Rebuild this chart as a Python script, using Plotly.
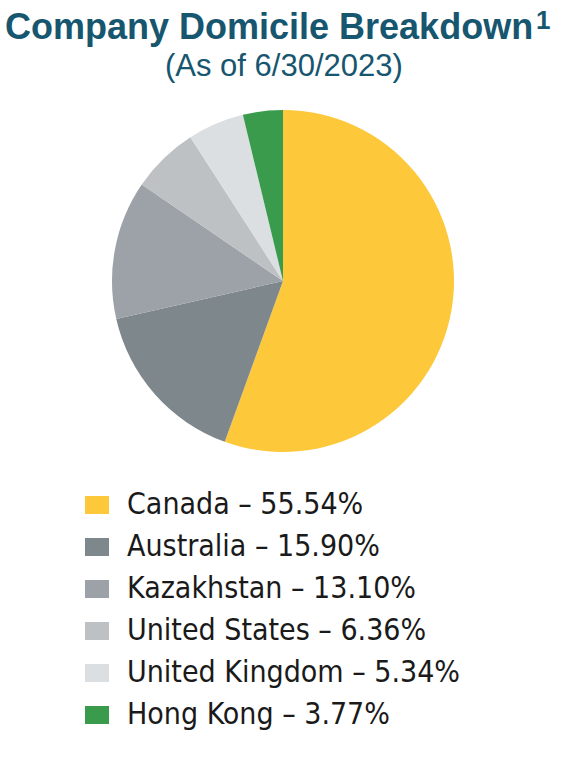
import plotly.graph_objects as go

W, H = 572, 778

countries = ["Canada", "Australia", "Kazakhstan", "United States", "United Kingdom", "Hong Kong"]
weights = [55.54, 15.90, 13.10, 6.36, 5.34, 3.77]
colors = ["#FDC83A", "#7D878C", "#9CA2A7", "#BDC1C4", "#DCDFE2", "#3A9B4C"]

title_text = "Company Domicile Breakdown"
footnote_mark = "1"
subtitle_text = "(As of 6/30/2023)"
navy = "#17566F"
legend_font = "DejaVu Sans Condensed, Liberation Sans Narrow, Roboto"


def px_x(v):
    return v / W


def px_y(v):
    return 1 - v / H


fig = go.Figure()
fig.add_trace(go.Pie(
    labels=countries,
    values=weights,
    marker=dict(colors=colors, line=dict(width=0)),
    sort=False,
    direction="clockwise",
    rotation=0,
    textinfo="none",
    hoverinfo="label+percent",
    showlegend=False,
    domain=dict(x=[px_x(112), px_x(454)], y=[px_y(452), px_y(110)]),
))

# hand-built legend, one row per country
shapes = []
annotations = []
row0, step = 505, 42
for i, (name, val, col) in enumerate(zip(countries, weights, colors)):
    yc = row0 + i * step
    shapes.append(dict(type="rect", xref="paper", yref="paper",
                       x0=px_x(85), x1=px_x(109), y0=px_y(yc + 9), y1=px_y(yc - 9),
                       fillcolor=col, line=dict(width=0)))
    annotations.append(dict(text=f"{name} \u2013 {val:.2f}%", xref="paper", yref="paper",
                            x=px_x(125), y=px_y(yc - 2), xanchor="left", yanchor="middle",
                            showarrow=False,
                            font=dict(family=legend_font, size=30, color="#1a1a1a")))

annotations.append(dict(text=f"<b>{title_text}</b>", xref="paper", yref="paper",
                        x=px_x(269), y=px_y(27), xanchor="center", yanchor="middle",
                        showarrow=False,
                        font=dict(family="Liberation Sans", size=36, color=navy)))
# footnote marker, top-aligned with the capitals
annotations.append(dict(text=f"<b>{footnote_mark}</b>", xref="paper", yref="paper",
                        x=px_x(534), y=px_y(20), xanchor="left", yanchor="middle",
                        showarrow=False,
                        font=dict(family="Liberation Sans", size=26, color=navy)))
annotations.append(dict(text=subtitle_text, xref="paper", yref="paper",
                        x=px_x(284), y=px_y(65), xanchor="center", yanchor="middle",
                        showarrow=False,
                        font=dict(family="Liberation Sans", size=31, color=navy)))

fig.update_layout(
    width=W, height=H,
    margin=dict(l=0, r=0, t=0, b=0),
    paper_bgcolor="white",
    plot_bgcolor="white",
    shapes=shapes,
    annotations=annotations,
)

# drop the default body margin so the figure fills the window exactly
fig.write_html("out.html", config={"displayModeBar": False},
               post_script="document.body.style.margin = '0';")
